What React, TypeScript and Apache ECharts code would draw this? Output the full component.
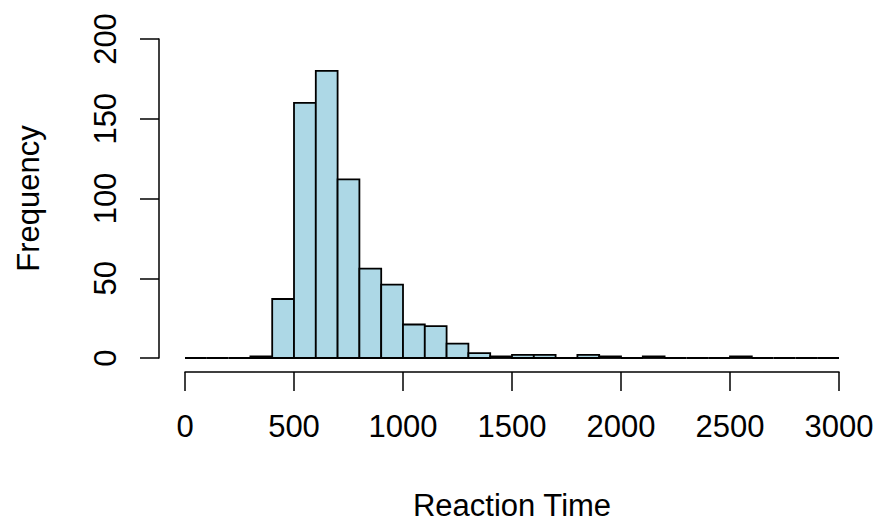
import React, { useEffect, useRef } from "react";
import * as echarts from "echarts";

const binStarts = [0, 100, 200, 300, 400, 500, 600, 700, 800, 900, 1000, 1100, 1200, 1300, 1400, 1500, 1600, 1700, 1800, 1900, 2000, 2100, 2200, 2300, 2400, 2500, 2600, 2700, 2800, 2900];
const binWidth = 100;
const counts = [0, 0, 0, 1, 37, 160, 180, 112, 56, 46, 21, 20, 9, 3, 1, 2, 2, 0, 2, 1, 0, 1, 0, 0, 0, 1, 0, 0, 0, 0];
const xTicks = [0, 500, 1000, 1500, 2000, 2500, 3000];
const yTicks = [0, 50, 100, 150, 200];
const xTitle = "Reaction Time";
const yTitle = "Frequency";

const FONT = "'Liberation Sans', Arial, Helvetica, sans-serif";

export default function App() {
  const ref = useRef<HTMLDivElement>(null);
  useEffect(() => {
    if (!ref.current) return;
    const chart = echarts.init(ref.current, undefined, { renderer: "svg" });
    const data = binStarts.map((s, i) => [s, s + binWidth, counts[i]]);
    chart.setOption({
      animation: false,
      backgroundColor: "#ffffff",
      grid: { left: 185, right: 39, top: 39, bottom: 167 },
      xAxis: {
        type: "value",
        min: xTicks[0],
        max: xTicks[xTicks.length - 1],
        interval: 500,
        offset: 14,
        name: xTitle,
        nameLocation: "middle",
        nameGap: 118,
        nameTextStyle: { color: "#000", fontSize: 31, fontFamily: FONT },
        axisLine: { show: true, onZero: false, lineStyle: { color: "#000", width: 1.5 } },
        axisTick: { show: true, length: 19, lineStyle: { color: "#000", width: 1.5 } },
        axisLabel: { color: "#000", fontSize: 31, fontFamily: FONT, margin: 39, formatter: (v: number) => String(v) },
        splitLine: { show: false },
      },
      yAxis: {
        type: "value",
        min: yTicks[0],
        max: yTicks[yTicks.length - 1],
        interval: 50,
        offset: 26,
        name: yTitle,
        nameLocation: "middle",
        nameRotate: 90,
        nameGap: 115,
        nameTextStyle: { color: "#000", fontSize: 31, fontFamily: FONT },
        axisLine: { show: true, onZero: false, lineStyle: { color: "#000", width: 1.5 } },
        axisTick: { show: true, length: 19, lineStyle: { color: "#000", width: 1.5 } },
        axisLabel: { color: "#000", fontSize: 31, fontFamily: FONT, margin: 38, rotate: 90, formatter: (v: number) => String(v) },
        splitLine: { show: false },
      },
      series: [
        {
          type: "custom",
          data,
          encode: { x: [0, 1], y: 2 },
          renderItem: (params: any, api: any) => {
            const p0 = api.coord([api.value(0), api.value(2)]);
            const p1 = api.coord([api.value(1), 0]);
            return {
              type: "rect",
              shape: { x: p0[0], y: p0[1], width: p1[0] - p0[0], height: p1[1] - p0[1] },
              style: { fill: "#add8e6", stroke: "#000", lineWidth: 1.8 },
            };
          },
        },
      ],
    });
    return () => chart.dispose();
  }, []);
  return <div ref={ref} style={{ width: 878, height: 526, position: "absolute", left: 0, top: 0 }} />;
}
